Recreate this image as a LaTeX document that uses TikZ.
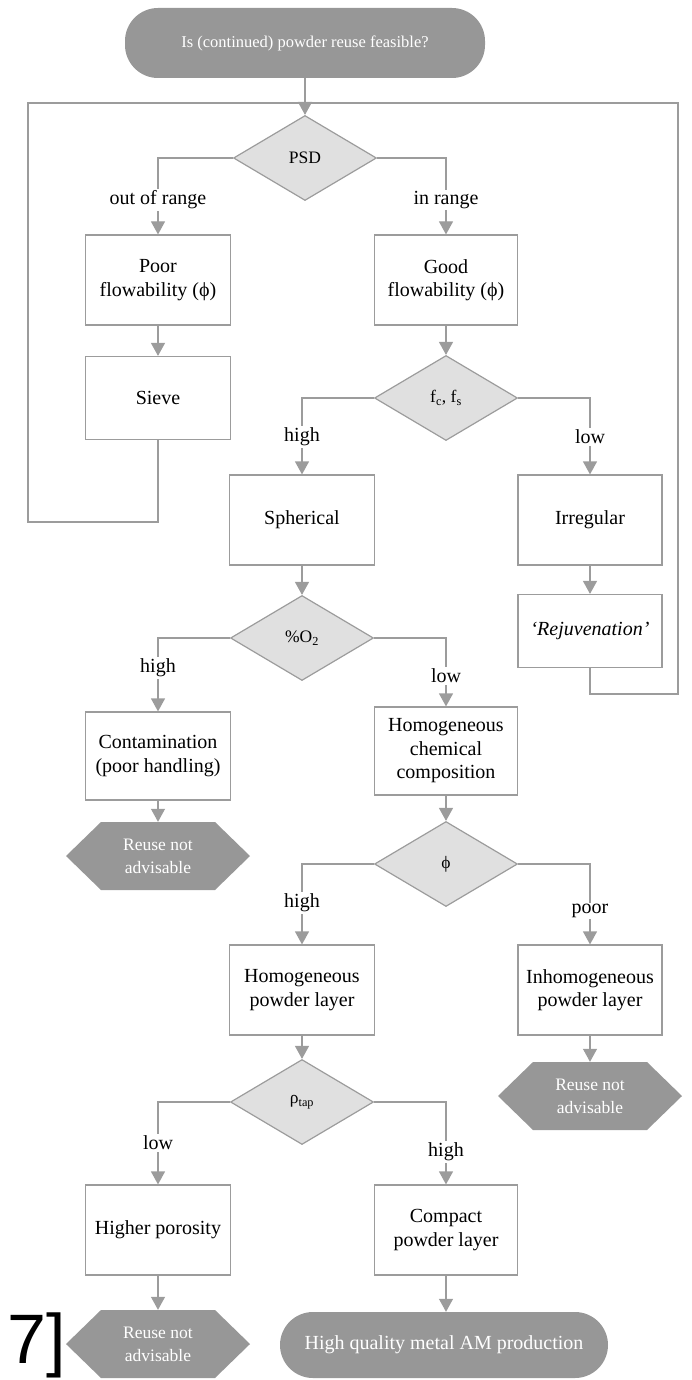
\documentclass[tikz,border=0pt]{standalone}
\usepackage{fontspec}
\setmainfont{Liberation Serif}
\newfontfamily\cutsans{Liberation Sans}
\usetikzlibrary{arrows.meta,shapes.geometric}
\definecolor{lc}{HTML}{9C9C9C}
\definecolor{dfill}{HTML}{979797}
\definecolor{dia}{HTML}{E0E0E0}
\newcommand\hexshape[4]{%
  \fill[dfill] ({#2-92},#3) -- ({#2-57},{#3-34}) -- ({#2+57},{#3-34}) -- ({#2+92},#3) -- ({#2+57},{#3+34}) -- ({#2-57},{#3+34}) -- cycle;
  \node[hexn] (#1) at (#2,#3) {#4};}
\begin{document}
\begin{tikzpicture}[x=1pt,y=-1pt,
  every node/.style={font=\fontsize{20}{23.5}\selectfont, align=center},
  box/.style={draw=lc, line width=1.2pt, fill=white, minimum width=145pt, inner sep=2pt},
  decision/.style={diamond, draw=lc, fill=dia, line width=1.2pt, minimum width=143pt, minimum height=85pt, inner sep=0pt, font=\fontsize{17.5}{20}\selectfont},
  term/.style={rectangle, fill=dfill, text=white, rounded corners=33pt},
  hexn/.style={text=white, minimum width=185pt, minimum height=68pt, inner sep=0pt, font=\fontsize{17.5}{23}\selectfont},
  arr/.style={draw=lc, line width=1.2pt, -{Triangle[width=14pt,length=13pt]}},
  ln/.style={draw=lc, line width=1.2pt},
  lbl/.style={fill=white, inner sep=1.5pt}]
\useasboundingbox (0,0) rectangle (692,1380);

% nodes
\node[term, minimum width=360pt, minimum height=70pt, font=\fontsize{16.5}{20}\selectfont] (start) at (305,43) {Is (continued) powder reuse feasible?};
\node[decision] (psd) at (305,158) {PSD};
\node[box, minimum height=90pt] (poor) at (158,280) {Poor\\flowability (ϕ)};
\node[box, minimum height=83pt] (sieve) at (158,398) {Sieve};
\node[box, minimum width=143pt, minimum height=90pt] (good) at (446,280) {Good\\flowability (ϕ)};
\node[decision] (fcfs) at (446,398) {f\textsubscript{c}, f\textsubscript{s}};
\node[box, minimum height=90pt] (sph) at (302,520) {Spherical};
\node[box, minimum width=144pt, minimum height=90pt] (irr) at (590,520) {Irregular};
\node[box, minimum width=144pt, minimum height=73pt] (rej) at (590,631) {\textit{‘Rejuvenation’}};
\node[decision] (oxy) at (302,638) {\%O\textsubscript{2}};
\node[box, minimum height=88pt] (cont) at (158,756) {Contamination\\(poor handling)};
\node[box, minimum width=143pt, minimum height=88pt] (hcc) at (446,751) {Homogeneous\\chemical\\composition};
\hexshape{r1}{158}{856}{Reuse not\\advisable}
\node[decision] (phi) at (446,864) {ϕ};
\node[box, minimum height=90pt] (hpl) at (302,990) {Homogeneous\\powder layer};
\node[box, minimum width=144pt, minimum height=90pt] (ipl) at (590,990) {Inhomogeneous\\powder layer};
\hexshape{r2}{590}{1096}{Reuse not\\advisable}
\node[decision] (rho) at (302,1102) {ρ\textsubscript{tap}};
\node[box, minimum height=90pt] (hpor) at (158,1230) {Higher porosity};
\node[box, minimum width=143pt, minimum height=90pt] (cpl) at (446,1230) {Compact\\powder layer};
\hexshape{r3}{158}{1344}{Reuse not\\advisable}
\node[term, minimum width=328pt, minimum height=66pt] (end) at (444,1345) {High quality metal AM production};
\node[font=\cutsans\fontsize{70}{70}\selectfont, anchor=south east, inner sep=0pt] (cut) at (66,1378) {7]};

% loops
\coordinate (jn) at (305,103);
\coordinate (lb) at (28,522);
\coordinate (rb) at (678,694);
\draw[ln] (sieve.south) |- (lb) |- (jn);
\draw[ln] (rej.south) |- (rb) |- (jn);

% connectors
\draw[arr] (start) -- (psd);
\draw[arr] (psd.west) -| (poor.north);
\draw[arr] (psd.east) -| (good.north);
\draw[arr] (poor) -- (sieve);
\draw[arr] (good) -- (fcfs);
\draw[arr] (fcfs.west) -| (sph.north);
\draw[arr] (fcfs.east) -| (irr.north);
\draw[arr] (irr) -- (rej);
\draw[arr] (sph) -- (oxy);
\draw[arr] (oxy.west) -| (cont.north);
\draw[arr] (oxy.east) -| (hcc.north);
\draw[arr] (cont) -- (r1);
\draw[arr] (hcc) -- (phi);
\draw[arr] (phi.west) -| (hpl.north);
\draw[arr] (phi.east) -| (ipl.north);
\draw[arr] (ipl) -- (r2);
\draw[arr] (hpl) -- (rho);
\draw[arr] (rho.west) -| (hpor.north);
\draw[arr] (rho.east) -| (cpl.north);
\draw[arr] (hpor) -- (r3);
\draw[arr] (cpl.south) -- (cpl.south |- end.north);

% branch labels
\node[lbl] (l1) at (158,200) {out of range};
\node[lbl] (l2) at (446,200) {in range};
\node[lbl] (l3) at (302,437) {high};
\node[lbl] (l4) at (590,437) {low};
\node[lbl] (l5) at (158,668) {high};
\node[lbl] (l6) at (446,676) {low};
\node[lbl] (l7) at (302,903) {high};
\node[lbl] (l8) at (590,911) {poor};
\node[lbl] (l9) at (158,1143) {low};
\node[lbl] (l10) at (446,1152) {high};
\end{tikzpicture}
\end{document}
